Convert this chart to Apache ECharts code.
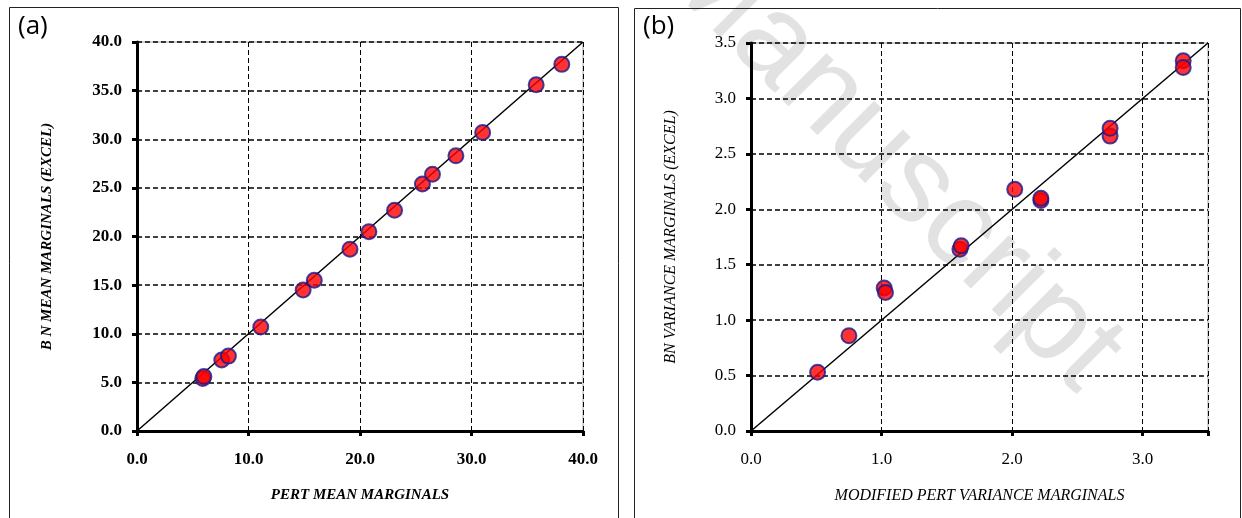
<!DOCTYPE html>
<html>
<head>
<meta charset="utf-8">
<script src="https://cdn.jsdelivr.net/npm/echarts@6/dist/echarts.min.js"></script>
<style>
html,body{margin:0;padding:0;background:#fff;}
#c{width:1242px;height:518px;}
</style>
</head>
<body>
<div id="c"></div>
<script>
// Panel (a): PERT mean vs BN mean
const pertMean = [5.9, 6.0, 7.6, 8.2, 11.1, 14.9, 15.9, 19.1, 20.8, 23.1, 25.6, 26.5, 28.6, 31.0, 35.8, 38.1];
const bnMean   = [5.4, 5.6, 7.3, 7.7, 10.7, 14.5, 15.5, 18.7, 20.5, 22.7, 25.4, 26.4, 28.3, 30.7, 35.6, 37.7];
// Panel (b): modified PERT variance vs BN variance
const pertVar = [0.51, 0.75, 1.02, 1.03, 1.60, 1.61, 2.02, 2.22, 2.22, 2.75, 2.75, 3.31, 3.31];
const bnVar   = [0.53, 0.86, 1.29, 1.25, 1.64, 1.67, 2.18, 2.08, 2.10, 2.66, 2.73, 3.34, 3.28];
// y = x reference lines
const refA = [[0, 0], [40, 40]];
const refB = [[0, 0], [3.5, 3.5]];
// axis settings
const axisA = {min: 0, max: 40, xInterval: 10, yInterval: 5};
const axisB = {min: 0, max: 3.5, xInterval: 1, yInterval: 0.5};

const zip = (a, b) => a.map((v, i) => [v, b[i]]);
const fmt = v => v.toFixed(1);

const chart = echarts.init(document.getElementById('c'), null, {renderer: 'canvas'});

function xAxisCfg(idx, ax, name, bold, interval) {
  return {
    type: 'value', gridIndex: idx, min: ax.min, max: ax.max, interval: interval,
    name: name, nameLocation: 'middle', nameGap: 57,
    nameTextStyle: {fontFamily: 'Liberation Serif', fontStyle: 'italic', fontWeight: bold ? 'bold' : 'normal', fontSize: bold ? 15 : 16, color: '#000'},
    axisLine: {show: true, onZero: false, lineStyle: {color: '#000', width: 3}},
    axisTick: {show: true, length: 5, lineStyle: {color: '#000', width: 3}},
    axisLabel: {show: true, margin: 20, formatter: v => (v > ax.max - 0.01 && ax.max % interval !== 0) ? '' : fmt(v),
      fontFamily: 'Liberation Serif', fontWeight: bold ? 'bold' : 'normal', fontSize: 17, color: '#000',
      showMaxLabel: true},
    splitLine: {show: true, lineStyle: {color: '#000', type: [5, 3], width: 1}}
  };
}
function yAxisCfg(idx, ax, name, bold, gap) {
  return {
    type: 'value', gridIndex: idx, min: ax.min, max: ax.max, interval: ax.yInterval,
    name: name, nameLocation: 'middle', nameGap: gap, nameRotate: 90,
    nameTextStyle: {fontFamily: 'Liberation Serif', fontStyle: 'italic', fontWeight: bold ? 'bold' : 'normal', fontSize: bold ? 15 : 16, color: '#000'},
    axisLine: {show: true, onZero: false, lineStyle: {color: '#000', width: 3}},
    axisTick: {show: true, length: 5, lineStyle: {color: '#000', width: 3}},
    axisLabel: {show: true, margin: 15, formatter: v => fmt(v),
      fontFamily: 'Liberation Serif', fontWeight: bold ? 'bold' : 'normal', fontSize: 17, color: '#000'},
    splitLine: {show: true, lineStyle: {color: '#000', type: [5, 3], width: 1.5}}
  };
}
const markerStyle = {color: '#ff0000', borderColor: '#1a1a8c', borderWidth: 2};

chart.setOption({
  animation: false,
  backgroundColor: '#fff',
  grid: [
    {left: 137, top: 42, width: 446, height: 389, show: true, borderColor: '#a0a0a0', borderWidth: 1, backgroundColor: 'transparent'},
    {left: 751, top: 43, width: 457, height: 388, show: true, borderColor: '#a0a0a0', borderWidth: 1, backgroundColor: 'transparent'}
  ],
  xAxis: [
    xAxisCfg(0, axisA, 'PERT MEAN MARGINALS', true, axisA.xInterval),
    xAxisCfg(1, axisB, 'MODIFIED PERT VARIANCE MARGINALS', false, axisB.xInterval)
  ],
  yAxis: [
    yAxisCfg(0, axisA, 'B N MEAN MARGINALS (EXCEL)', true, 82),
    yAxisCfg(1, axisB, 'BN VARIANCE MARGINALS (EXCEL)', false, 72)
  ],
  graphic: [
    {type: 'rect', left: 7, top: 5, shape: {width: 609, height: 520}, style: {fill: 'none', stroke: '#222', lineWidth: 1}, silent: true, z: 100},
    {type: 'rect', left: 632, top: 6, shape: {width: 606, height: 520}, style: {fill: 'none', stroke: '#222', lineWidth: 1}, silent: true, z: 100},
    {type: 'text', left: 18, top: 14, style: {text: '(a)', font: '26px "Open Sans", "Liberation Sans", sans-serif', fill: '#000'}, z: 100},
    {type: 'text', left: 643, top: 14, style: {text: '(b)', font: '26px "Open Sans", "Liberation Sans", sans-serif', fill: '#000'}, z: 100},
    {type: 'text', x: 890, y: 160, rotation: -Math.PI / 4, silent: true, z: -10,
      style: {text: 'Manuscript', font: '122px "Liberation Sans", Arial, sans-serif', fill: '#e2e2e2', align: 'center', verticalAlign: 'middle'}}
  ],
  series: [
    {type: 'line', xAxisIndex: 0, yAxisIndex: 0, data: refA, symbol: 'none', lineStyle: {color: '#000', width: 1.5}, z: 3},
    {type: 'scatter', xAxisIndex: 0, yAxisIndex: 0, data: zip(pertMean, bnMean), symbolSize: 15, itemStyle: markerStyle, z: 4},
    {type: 'line', xAxisIndex: 1, yAxisIndex: 1, data: refB, symbol: 'none', lineStyle: {color: '#000', width: 1.5}, z: 3},
    {type: 'scatter', xAxisIndex: 1, yAxisIndex: 1, data: zip(pertVar, bnVar), symbolSize: 15, itemStyle: markerStyle, z: 4}
  ]
});
</script>
</body>
</html>
